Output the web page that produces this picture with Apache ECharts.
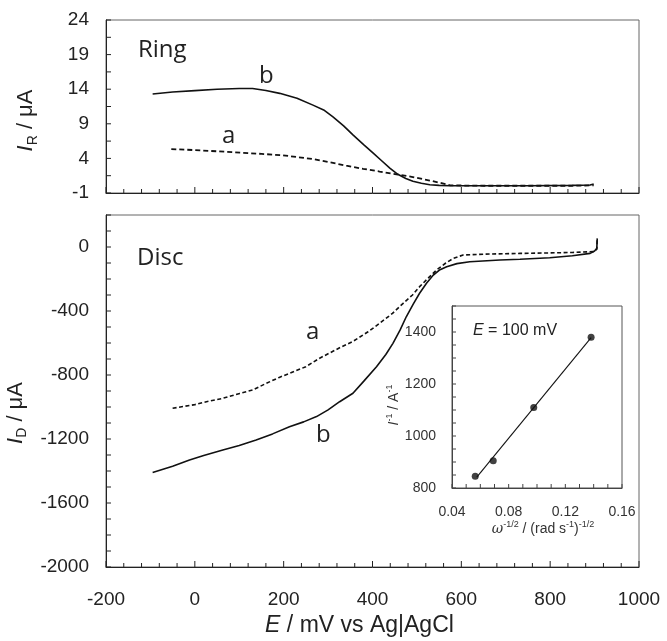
<!DOCTYPE html>
<html><head><meta charset="utf-8">
<script src="https://cdn.jsdelivr.net/npm/echarts@6/dist/echarts.min.js"></script>
<style>html,body{margin:0;padding:0;background:#fff}#c{width:667px;height:641px}</style>
</head><body><div id="c"></div>
<script>
// ---- Ring current (top panel), E in mV, I in µA ----
const ringA_E = [-53, 0, 86, 150, 198, 266, 303, 341, 379, 416, 454, 491, 529, 560, 575, 650, 750, 850, 898];
const ringA_I = [5.35, 5.2, 4.9, 4.65, 4.45, 3.9, 3.45, 2.95, 2.5, 2.1, 1.7, 1.3, 0.8, 0.35, 0.1, 0.05, 0.05, 0.05, 0.1];
const ringB_E = [-95, -50, 0, 50, 100, 130, 160, 191, 230, 266, 290, 311, 335, 356, 380, 401, 420, 439, 457, 475, 491, 510, 529, 550, 574, 650, 750, 850, 890, 898];
const ringB_I = [13.3, 13.6, 13.8, 14.0, 14.1, 14.1, 13.8, 13.4, 12.7, 11.7, 11.0, 10.0, 8.7, 7.4, 6.0, 4.8, 3.7, 2.6, 1.7, 1.1, 0.7, 0.4, 0.2, 0.1, 0.05, 0.05, 0.05, 0.1, 0.15, 0.3];

// ---- Disc current (bottom panel) ----
const discA_E = [-50, 0, 26, 60, 101, 130, 161, 190, 214, 250, 281, 326, 356, 390, 416, 445, 469, 490, 506, 525, 544, 565, 582, 604, 650, 732, 800, 850, 897, 905, 906];
const discA_I = [-1008, -985, -967, -948, -915, -894, -852, -815, -789, -748, -695, -630, -590, -530, -477, -415, -352, -300, -248, -195, -144, -100, -71, -50, -45, -40, -37, -34, -29, -15, 55];
const discB_E = [-95, -50, -12, 20, 63, 100, 138, 175, 213, 245, 274, 300, 326, 356, 380, 409, 430, 446, 462, 476, 492, 506, 522, 537, 552, 567, 590, 619, 687, 732, 799, 850, 890, 900, 905, 906];
const discB_I = [-1410, -1370, -1331, -1303, -1269, -1240, -1206, -1168, -1123, -1093, -1060, -1018, -967, -914, -840, -748, -672, -602, -520, -436, -355, -289, -225, -175, -142, -123, -104, -92, -81, -77, -67, -55, -40, -25, -8, 54];

// ---- Inset: Koutecky-Levich ----
const klX = [0.0564, 0.0691, 0.0977, 0.1382];
const klY = [845, 905, 1110, 1380];
const fitX = [0.0575, 0.1382];
const fitY = [842, 1378];

// ---- Tick labels and tick positions ----
const xLabels = [-200, 0, 200, 400, 600, 800, 1000];
const xMinorTicks = [-160, -120, -80, -40, 40, 80, 120, 160, 240, 280, 320, 360, 440, 480, 520, 560, 640, 680, 720, 760, 840, 880, 920, 960];
const topYLabels = [-1, 4, 9, 14, 19, 24];
const topYTicks = [-1, 1.5, 4, 6.5, 9, 11.5, 14, 16.5, 19, 21.5, 24];
const botYLabels = [-2000, -1600, -1200, -800, -400, 0];
const botYTicks = [-2000,-1900,-1800,-1700,-1600,-1500,-1400,-1300,-1200,-1100,-1000,-900,-800,-700,-600,-500,-400,-300,-200,-100,0,100,200];
const insetXLabels = [0.04, 0.08, 0.12, 0.16];
const insetXTicks = [0.04, 0.05, 0.06, 0.07, 0.08, 0.09, 0.10, 0.11, 0.12, 0.13, 0.14, 0.15, 0.16];
const insetYLabels = [800, 1000, 1200, 1400];
const insetYTicks = [800,850,900,950,1000,1050,1100,1150,1200,1250,1300,1350,1400,1450,1500];

const zip = (a, b) => a.map((v, i) => [v, b[i]]);
const FONT = 'Liberation Sans';
const LFONT = 'Open Sans';
const TXT = '#222';
const AX = '#222';
const plain = v => String(v);

// Inside tick marks drawn through the axes' own scales (api.coord)
function tickSeries(xi, yi, pts, dir, len, color) {
  return {
    type: 'custom', coordinateSystem: 'cartesian2d', xAxisIndex: xi, yAxisIndex: yi,
    data: pts, silent: true, clip: false, z: 3, animation: false,
    encode: {x: 0, y: 1},
    renderItem: function (params, api) {
      const p = api.coord([api.value(0), api.value(1)]);
      const x2 = dir === 'up' ? p[0] : p[0] + len;
      const y2 = dir === 'up' ? p[1] - len : p[1];
      return {type: 'line', shape: {x1: p[0], y1: p[1], x2: x2, y2: y2}, style: {stroke: color, lineWidth: 1}};
    }
  };
}

const chart = echarts.init(document.getElementById('c'));

function xAxisMain(gridIndex, showLabels) {
  return {
    type: 'value', gridIndex, min: xLabels[0], max: xLabels[xLabels.length - 1], interval: 200,
    axisLine: {show: true, onZero: false, lineStyle: {color: AX}},
    axisTick: {show: false},
    minorTick: {show: false},
    splitLine: {show: false},
    axisLabel: {show: showLabels, fontFamily: FONT, fontSize: 19, color: TXT, margin: 23, formatter: plain}
  };
}

const option = {
  backgroundColor: '#fff',
  animation: false,
  grid: [
    {left: 106, top: 20, width: 533, height: 173, show: true, borderColor: '#666', outerBoundsMode: 'none'},
    {left: 106, top: 215, width: 533, height: 352, show: true, borderColor: '#666', outerBoundsMode: 'none'},
    {left: 452, top: 306, width: 170, height: 182, show: true, borderColor: '#555', outerBoundsMode: 'none'}
  ],
  xAxis: [
    xAxisMain(0, false),
    Object.assign(xAxisMain(1, true), {
      name: '{i|E}{t| / mV vs Ag|AgCl}', nameLocation: 'middle', nameGap: 44,
      nameTextStyle: {fontFamily: FONT, fontSize: 23, color: TXT, padding: [0, 26, 0, 0],
        rich: {i: {fontFamily: FONT, fontSize: 23, fontStyle: 'italic', color: TXT}, t: {fontFamily: FONT, fontSize: 23, color: TXT}}}
    }),
    {
      type: 'value', gridIndex: 2, min: insetXLabels[0], max: insetXLabels[insetXLabels.length - 1], interval: 0.04,
      axisLine: {show: true, onZero: false, lineStyle: {color: '#444'}},
      axisTick: {show: false},
      minorTick: {show: false},
      splitLine: {show: false},
      axisLabel: {fontFamily: FONT, fontSize: 14, color: '#333', margin: 17, formatter: v => v.toFixed(2)},
      name: '{i|ω}{sup|-1/2}{t| / (rad s}{sup|-1}{t|)}{sup|-1/2}', nameLocation: 'middle', nameGap: 31,
      nameTextStyle: {fontFamily: FONT, fontSize: 14, color: '#333', padding: [0, 0, 0, 12],
        rich: {
          i: {fontFamily: 'DejaVu Serif', fontSize: 14, fontStyle: 'italic', color: '#333', lineHeight: 18},
          t: {fontFamily: FONT, fontSize: 14, color: '#333', lineHeight: 18},
          sup: {fontFamily: FONT, fontSize: 9, color: '#333', verticalAlign: 'top', lineHeight: 18}
        }}
    }
  ],
  yAxis: [
    {
      type: 'value', gridIndex: 0, min: -1, max: 24,
      axisLine: {show: true, onZero: false, lineStyle: {color: AX}},
      axisTick: {show: false},
      splitLine: {show: false},
      axisLabel: {fontFamily: FONT, fontSize: 19, color: TXT, margin: 17, customValues: topYLabels, formatter: plain},
      name: '{i|I}{sub|R}{t| / μA}', nameLocation: 'middle', nameGap: 66,
      nameTextStyle: {fontFamily: FONT, fontSize: 22, color: TXT, padding: [0, 28, 0, 0],
        rich: {
          i: {fontFamily: FONT, fontSize: 22, fontStyle: 'italic', color: TXT, lineHeight: 28},
          t: {fontFamily: FONT, fontSize: 22, color: TXT, lineHeight: 28},
          sub: {fontFamily: FONT, fontSize: 14, color: TXT, verticalAlign: 'bottom', lineHeight: 28}
        }}
    },
    {
      type: 'value', gridIndex: 1, min: -2000, max: 200,
      axisLine: {show: true, onZero: false, lineStyle: {color: AX}},
      axisTick: {show: false},
      splitLine: {show: false},
      axisLabel: {fontFamily: FONT, fontSize: 19, color: TXT, margin: 17, customValues: botYLabels, formatter: plain},
      name: '{i|I}{sub|D}{t| / μA}', nameLocation: 'middle', nameGap: 66,
      nameTextStyle: {fontFamily: FONT, fontSize: 22, color: TXT, padding: [0, 44, 0, 0],
        rich: {
          i: {fontFamily: FONT, fontSize: 22, fontStyle: 'italic', color: TXT, lineHeight: 28},
          t: {fontFamily: FONT, fontSize: 22, color: TXT, lineHeight: 28},
          sub: {fontFamily: FONT, fontSize: 14, color: TXT, verticalAlign: 'bottom', lineHeight: 28}
        }}
    },
    {
      type: 'value', gridIndex: 2, min: 800, max: 1500,
      axisLine: {show: true, onZero: false, lineStyle: {color: '#444'}},
      axisTick: {show: false},
      splitLine: {show: false},
      axisLabel: {fontFamily: FONT, fontSize: 14, color: '#333', margin: 16, customValues: insetYLabels, formatter: plain},
      name: '{i|I}{sup|-1}{t| / A}{sup|-1}', nameLocation: 'middle', nameGap: 31,
      nameTextStyle: {fontFamily: FONT, fontSize: 14, color: '#333', padding: [0, 16, 0, 0],
        rich: {
          i: {fontFamily: FONT, fontSize: 14, fontStyle: 'italic', color: '#333', lineHeight: 18},
          t: {fontFamily: FONT, fontSize: 14, color: '#333', lineHeight: 18},
          sup: {fontFamily: FONT, fontSize: 9, color: '#333', verticalAlign: 'top', lineHeight: 18}
        }}
    }
  ],
  series: [
    {type: 'line', name: 'Ring a', xAxisIndex: 0, yAxisIndex: 0, data: zip(ringA_E, ringA_I), showSymbol: false, symbol: 'none',
      lineStyle: {color: '#111', width: 1.8, type: [5, 3]}},
    {type: 'line', name: 'Ring b', xAxisIndex: 0, yAxisIndex: 0, data: zip(ringB_E, ringB_I), showSymbol: false, symbol: 'none',
      lineStyle: {color: '#111', width: 1.6}},
    {type: 'line', name: 'Disc a', xAxisIndex: 1, yAxisIndex: 1, data: zip(discA_E, discA_I), showSymbol: false, symbol: 'none',
      lineStyle: {color: '#111', width: 1.6, type: [4, 2.5]}},
    {type: 'line', name: 'Disc b', xAxisIndex: 1, yAxisIndex: 1, data: zip(discB_E, discB_I), showSymbol: false, symbol: 'none',
      lineStyle: {color: '#111', width: 1.6}},
    {type: 'line', name: 'fit', xAxisIndex: 2, yAxisIndex: 2, data: zip(fitX, fitY), showSymbol: false, symbol: 'none',
      lineStyle: {color: '#111', width: 1.1}},
    {type: 'scatter', name: 'KL', xAxisIndex: 2, yAxisIndex: 2, data: zip(klX, klY), symbol: 'circle', symbolSize: 7,
      itemStyle: {color: '#111'}},
    // axis tick marks (inside)
    tickSeries(0, 0, xLabels.map(v => [v, topYLabels[0]]), 'up', 6, AX),
    tickSeries(0, 0, xMinorTicks.map(v => [v, topYLabels[0]]), 'up', 4, AX),
    tickSeries(0, 0, topYTicks.map(v => [xLabels[0], v]), 'right', 5, AX),
    tickSeries(1, 1, xLabels.map(v => [v, botYLabels[0]]), 'up', 6, AX),
    tickSeries(1, 1, xMinorTicks.map(v => [v, botYLabels[0]]), 'up', 4, AX),
    tickSeries(1, 1, botYTicks.map(v => [xLabels[0], v]), 'right', 5, AX),
    tickSeries(2, 2, insetXTicks.map(v => [v, insetYLabels[0]]), 'up', 4, '#444'),
    tickSeries(2, 2, insetYTicks.map(v => [insetXLabels[0], v]), 'right', 4, '#444')
  ],
  graphic: [
    {type: 'text', left: 138, top: 38, style: {text: 'Ring', fontFamily: LFONT, fontSize: 24, fill: TXT}},
    {type: 'text', left: 137, top: 246, style: {text: 'Disc', fontFamily: LFONT, fontSize: 24, fill: TXT}},
    {type: 'text', left: 259, top: 64, style: {text: 'b', fontFamily: LFONT, fontSize: 24, fill: TXT}},
    {type: 'text', left: 222, top: 124, style: {text: 'a', fontFamily: LFONT, fontSize: 24, fill: TXT}},
    {type: 'text', left: 306, top: 320, style: {text: 'a', fontFamily: LFONT, fontSize: 24, fill: TXT}},
    {type: 'text', left: 316, top: 423, style: {text: 'b', fontFamily: LFONT, fontSize: 24, fill: TXT}},
    {type: 'text', left: 473, top: 323, style: {
      text: '{i|E}{t| = 100 mV}', fontFamily: FONT, fontSize: 16, fill: '#222',
      rich: {i: {fontFamily: FONT, fontSize: 16, fontStyle: 'italic', fill: '#222'}, t: {fontFamily: FONT, fontSize: 16, fill: '#222'}}}}
  ]
};
chart.setOption(option);
</script>
</body></html>
